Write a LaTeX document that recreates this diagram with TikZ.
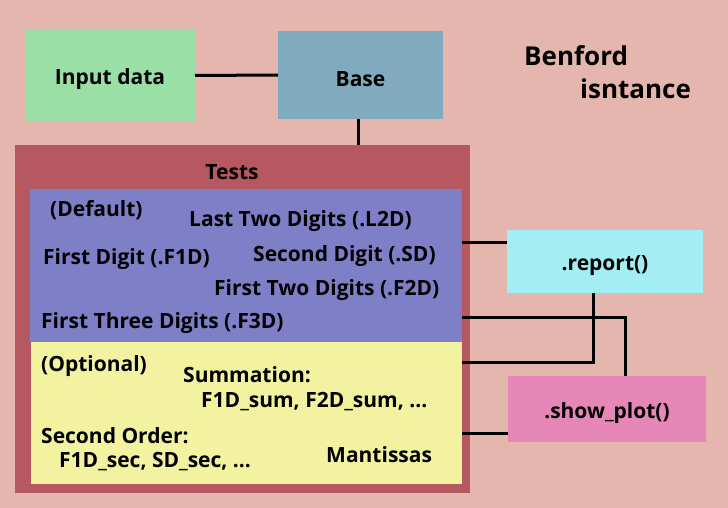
\documentclass[tikz,border=0pt]{standalone}
\usepackage{fontspec}
\setmainfont{Open Sans}
\definecolor{bgc}{RGB}{228,182,174}
\definecolor{inc}{RGB}{154,223,166}
\definecolor{basec}{RGB}{128,170,190}
\definecolor{testc}{RGB}{182,88,96}
\definecolor{bluec}{RGB}{127,127,200}
\definecolor{yelc}{RGB}{242,242,160}
\definecolor{repc}{RGB}{162,238,242}
\definecolor{showc}{RGB}{230,135,184}
\tikzset{
  box/.style={inner sep=0pt, outer sep=0pt, draw=none, font=\bfseries\fontsize{21}{24}\selectfont},
  boxtext/.style={inner sep=0pt, yshift=-4pt, font=\bfseries\fontsize{21}{24}\selectfont},
  lbl/.style={inner sep=0pt, anchor=west, font=\bfseries\fontsize{21}{24}\selectfont},
  big/.style={inner sep=0pt, anchor=west, font=\bfseries\fontsize{26}{30}\selectfont},
  conn/.style={line width=3pt, black}
}
\begin{document}
\begin{tikzpicture}[x=1pt,y=-1pt]
\fill[bgc] (0,0) rectangle (728,508);
\useasboundingbox (0,0) rectangle (728,508);
\node[box, fill=inc, minimum width=170pt, minimum height=91pt] (input) at (110,75.5) {};
\node[boxtext] (inputlbl) at (input) {Input data};
\node[box, fill=basec, minimum width=165pt, minimum height=88pt] (base) at (360.5,75) {};
\node[boxtext] (baselbl) at (base) {Base};
\node[box, fill=testc, minimum width=455pt, minimum height=348pt] (tests) at (242.5,319) {};
\node[box, fill=bluec, minimum width=432pt, minimum height=153pt] (blue) at (246,265.5) {};
\node[box, fill=yelc, minimum width=431pt, minimum height=142pt] (yellow) at (246.5,413) {};
\node[box, fill=repc, minimum width=196pt, minimum height=63pt] (report) at (605,261.5) {};
\node[boxtext] (reportlbl) at (report) {.report()};
\node[box, fill=showc, minimum width=198pt, minimum height=66pt] (show) at (607,409) {};
\node[boxtext] (showlbl) at (show) {.show\_plot()};
\node[box] (testlbl) at (232,172) {Tests};
\node[lbl] (def) at (50,210) {(Default)};
\node[lbl] (l2d) at (189,221) {Last Two Digits (.L2D)};
\node[lbl] (f1d) at (43,259) {First Digit (.F1D)};
\node[lbl] (sd) at (253,256) {Second Digit (.SD)};
\node[lbl] (f2d) at (214,290) {First Two Digits (.F2D)};
\node[lbl] (f3d) at (41,323) {First Three Digits (.F3D)};
\node[lbl] (opt) at (41,366) {(Optional)};
\node[lbl] (summ) at (183,375) {Summation:};
\node[lbl] (sumlist) at (201,402) {F1D\_sum, F2D\_sum, ...};
\node[lbl] (sec) at (41,436) {Second Order:};
\node[lbl] (seclist) at (59,462) {F1D\_sec, SD\_sec, ...};
\node[lbl] (mant) at (326,455) {Mantissas};
\node[big] (benford) at (524,56) {Benford};
\node[big] (inst) at (580,89) {isntance};
\draw[conn] (input.east) -- (base.west);
\draw[conn] (base.south -| 358,0) -- (tests.north -| 358,0);
\draw[conn] (blue.east |- 0,242) -- (report.west |- 0,242);
\draw[conn] (blue.east |- 0,317) -| (show.north -| 625,0);
\draw[conn] (report.south -| 593,0) |- (yellow.east |- 0,362);
\draw[conn] (yellow.east |- 0,433) -- (show.west |- 0,433);
\end{tikzpicture}
\end{document}
